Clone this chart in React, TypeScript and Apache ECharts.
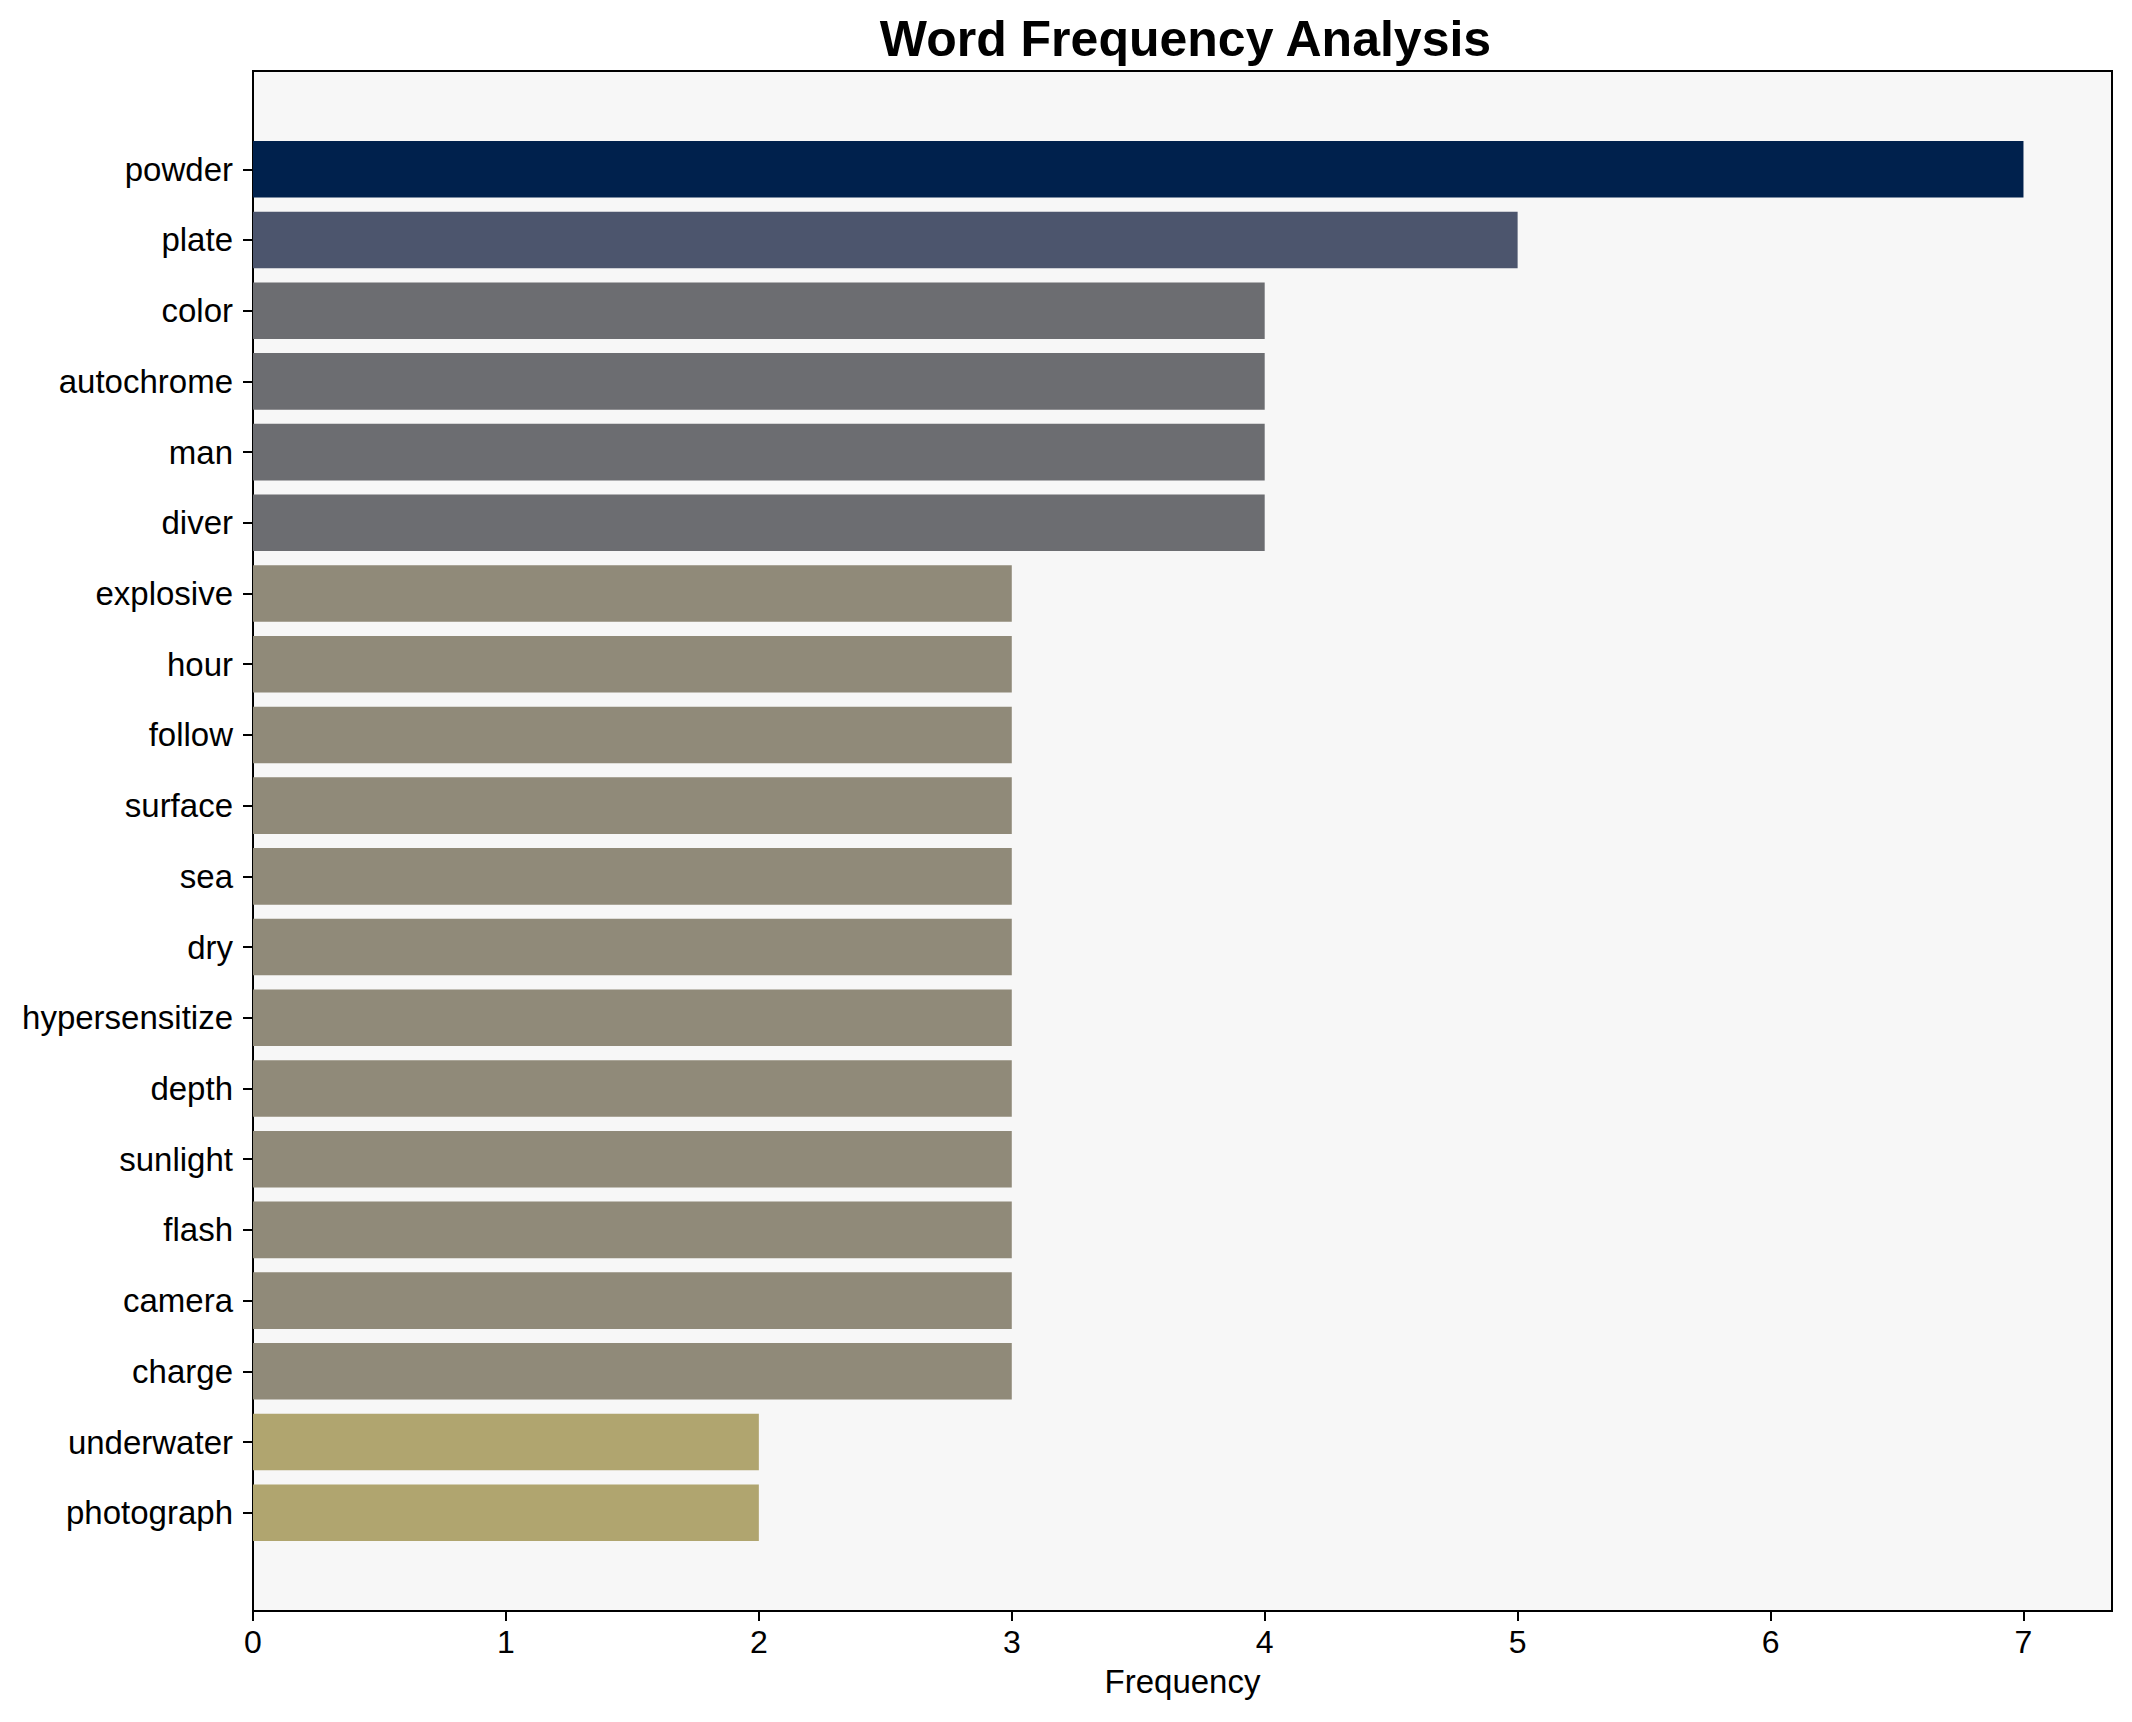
import React, { useEffect, useRef } from "react";
import * as echarts from "echarts";

const categories = [
  "powder", "plate", "color", "autochrome", "man", "diver", "explosive", "hour",
  "follow", "surface", "sea", "dry", "hypersensitize", "depth", "sunlight", "flash",
  "camera", "charge", "underwater", "photograph",
];
const frequencies = [7, 5, 4, 4, 4, 4, 3, 3, 3, 3, 3, 3, 3, 3, 3, 3, 3, 3, 2, 2];
const xTicks = [0, 1, 2, 3, 4, 5, 6, 7];
const colorByValue: Record<number, string> = {
  7: "#00214d",
  5: "#4c556d",
  4: "#6c6d71",
  3: "#908a79",
  2: "#b0a56f",
};

const FONT = "'Liberation Sans', Arial, Helvetica, sans-serif";

export default function App() {
  const ref = useRef<HTMLDivElement>(null);
  useEffect(() => {
    if (!ref.current) return;
    const chart = echarts.init(ref.current, undefined, { renderer: "svg" });
    const L = 253;
    const T = 71;
    const W = 1859;
    const H = 1540;
    const unit = H / 21.78;
    const barTop = T + 0.89 * unit;
    const barH = 20 * unit;
    chart.setOption({
      animation: false,
      backgroundColor: "#ffffff",
      title: {
        text: "Word Frequency Analysis",
        left: L + W / 2 - 2,
        textAlign: "center",
        top: 9,
        textStyle: { fontFamily: FONT, fontSize: 50, fontWeight: "bold", color: "#000" },
      },
      grid: [
        {
          left: L, top: T, width: W, height: H, show: true,
          backgroundColor: "#f7f7f7", borderColor: "#000", borderWidth: 2,
        },
        { left: L, top: barTop, width: W, height: barH },
      ],
      xAxis: [
        {
          gridIndex: 0, type: "value", min: 0, max: 7.35, interval: 1,
          splitLine: { show: false },
          axisLine: { show: true, lineStyle: { color: "#000", width: 2 } },
          axisTick: { show: true, length: 10, lineStyle: { color: "#000", width: 2 }, customValues: xTicks },
          axisLabel: { show: true, margin: 15, fontSize: 32, color: "#000", fontFamily: FONT, customValues: xTicks },
          name: "Frequency", nameLocation: "middle", nameGap: 54,
          nameTextStyle: { fontSize: 33, color: "#000", fontFamily: FONT },
        },
        {
          gridIndex: 1, type: "value", min: 0, max: 7.35, show: false,
          splitLine: { show: false },
        },
      ],
      yAxis: [
        {
          gridIndex: 0, type: "value", min: 0, max: 1, show: false, splitLine: { show: false },
        },
        {
          gridIndex: 1, type: "category", data: categories, inverse: true,
          axisLine: { show: false },
          axisTick: { show: true, length: 10, alignWithLabel: true, lineStyle: { color: "#000", width: 2 } },
          axisLabel: { margin: 20, fontSize: 33, color: "#000", fontFamily: FONT },
          splitLine: { show: false },
        },
      ],
      series: [
        {
          type: "bar",
          xAxisIndex: 1,
          yAxisIndex: 1,
          barWidth: "80%",
          data: frequencies.map((v) => ({ value: v, itemStyle: { color: colorByValue[v] } })),
        },
      ],
    });
    return () => chart.dispose();
  }, []);
  return (
    <div
      ref={ref}
      style={{ position: "fixed", left: 0, top: 0, width: 2132, height: 1722 }}
    />
  );
}
